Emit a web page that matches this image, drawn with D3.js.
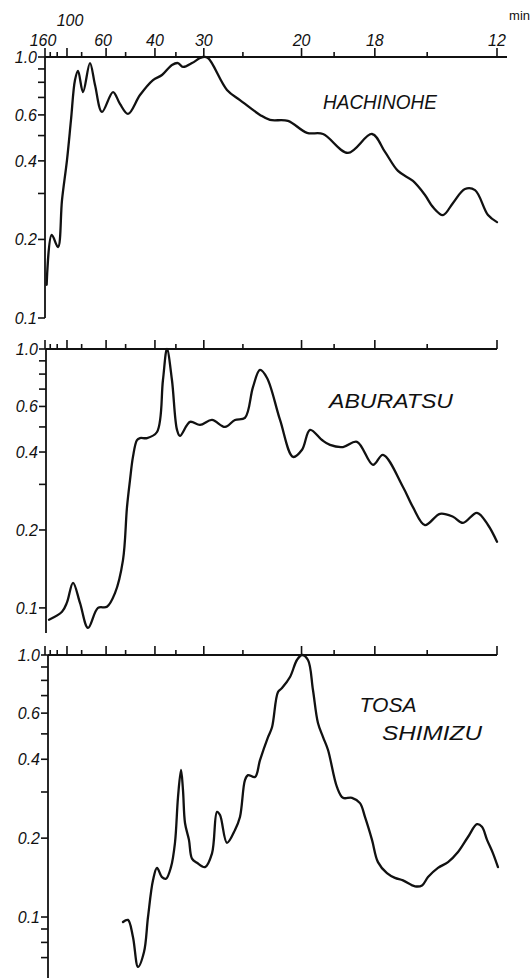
<!DOCTYPE html>
<html><head><meta charset="utf-8">
<script src="https://cdn.jsdelivr.net/npm/d3@7"></script>
<style>
html,body{margin:0;padding:0;background:#fff;}
svg{display:block;}
text{font-family:"Liberation Sans",Arial,sans-serif;font-style:italic;fill:#111;}
</style></head>
<body>
<svg id="c" width="532" height="978"></svg>
<script>
// ---------- DATA ----------
// tick periods (minutes) on the top axis
const periodTicks   = [160,140,120,100,80,60,50,40,35,30,25,20,18,16,14,12];
const majorPeriods  = [160,100,60,40,30,20,16,12];
const periodLabels  = ["160","100","60","40","30","20","18","12"];
const stations      = ["HACHINOHE","ABURATSU","TOSA SHIMIZU"];
const yMajor        = [1.0,0.6,0.4,0.2,0.1];
const yMajorLabels  = ["1.0","0.6","0.4","0.2","0.1"];
const yMinor        = [0.9,0.8,0.7,0.5,0.3];
const yMinorLow     = [0.09,0.08,0.07];

// frequency in cycles per hour, relative amplitude
const hachFreq = [0.392,0.444,0.508,0.549,0.600,0.641,0.682,0.713,0.764,0.835,0.887,0.958,1.071,1.142,1.224,1.347,1.480,1.572,1.674,1.736,1.787,1.879,1.961,1.992,2.043,2.237,2.370,2.575,2.677,2.861,3.056,3.220,3.475,3.721,3.854,3.987,4.140,4.263,4.345,4.447,4.550,4.672,4.775,4.908,5.000];
const hachAmp  = [0.134,0.208,0.187,0.283,0.403,0.574,0.816,0.884,0.734,0.948,0.781,0.616,0.734,0.661,0.605,0.715,0.816,0.853,0.932,0.948,0.916,0.948,0.991,1.0,0.991,0.748,0.684,0.600,0.574,0.569,0.512,0.507,0.429,0.507,0.433,0.366,0.335,0.296,0.266,0.248,0.276,0.312,0.309,0.248,0.233];

const abuFreq = [0.416,0.549,0.600,0.662,0.733,0.815,0.917,1.009,1.091,1.173,1.214,1.245,1.275,1.316,1.347,1.419,1.521,1.582,1.623,1.674,1.726,1.756,1.859,1.961,2.084,2.217,2.319,2.421,2.503,2.575,2.647,2.780,2.913,3.005,3.087,3.209,3.291,3.424,3.567,3.731,3.833,4.038,4.140,4.263,4.417,4.550,4.652,4.795,4.908,5.000];
const abuAmp  = [0.090,0.0966,0.105,0.125,0.1045,0.0837,0.100,0.101,0.114,0.153,0.245,0.312,0.383,0.445,0.453,0.453,0.478,0.759,1.0,0.759,0.487,0.462,0.523,0.509,0.532,0.500,0.532,0.542,0.713,0.830,0.773,0.532,0.383,0.408,0.487,0.445,0.426,0.418,0.438,0.357,0.390,0.293,0.245,0.209,0.231,0.225,0.213,0.233,0.209,0.180];

const tosaFreq = [1.173,1.224,1.275,1.327,1.388,1.429,1.480,1.521,1.572,1.613,1.664,1.705,1.736,1.767,1.787,1.808,1.848,1.879,1.930,2.012,2.084,2.135,2.166,2.237,2.319,2.370,2.421,2.452,2.524,2.575,2.657,2.698,2.759,2.800,2.882,2.953,3.005,3.066,3.117,3.168,3.220,3.271,3.363,3.424,3.516,3.598,3.649,3.721,3.782,3.874,3.956,4.038,4.161,4.233,4.294,4.396,4.499,4.601,4.703,4.795,4.846,4.898,4.959,5.010];
const tosaAmp  = [0.0957,0.0975,0.0839,0.0645,0.0735,0.100,0.138,0.154,0.142,0.140,0.155,0.192,0.287,0.364,0.305,0.228,0.197,0.167,0.161,0.155,0.175,0.252,0.245,0.192,0.215,0.241,0.333,0.348,0.342,0.397,0.486,0.53,0.722,0.748,0.824,0.957,1.0,0.957,0.735,0.55,0.486,0.434,0.313,0.285,0.285,0.272,0.241,0.197,0.162,0.147,0.141,0.138,0.131,0.132,0.142,0.154,0.162,0.177,0.202,0.226,0.221,0.197,0.175,0.155];

// ---------- LAYOUT ----------
const svg = d3.select("#c");
const x = d3.scaleLinear().domain([60/160, 60/12]).range([45, 497]);
const panels = [
  {freq:hachFreq, amp:hachAmp, name:[stations[0]], yDom:[0.1,1], yRange:[318,57], axisX:45, extend:10, lowTicks:[],
   labelPos:[[380,109]], labelLen:[114]},
  {freq:abuFreq, amp:abuAmp, name:[stations[1]], yDom:[0.08,1], yRange:[633,349], axisX:46, extend:0, lowTicks:[],
   labelPos:[[391,408]], labelLen:[124]},
  {freq:tosaFreq, amp:tosaAmp, name:["TOSA","SHIMIZU"], yDom:[0.058,1], yRange:[979,655], axisX:48, extend:0, lowTicks:yMinorLow,
   labelPos:[[388,712],[432,740]], labelLen:[57,100]}
];

const line = d3.line().curve(d3.curveCatmullRom.alpha(0.5));

panels.forEach((p, i) => {
  const y = d3.scaleLog().domain(p.yDom).range(p.yRange);
  const g = svg.append("g");
  const top = y(1);

  g.append("line").attr("x1", p.axisX).attr("x2", x(5) + p.extend)
    .attr("y1", top).attr("y2", top).attr("stroke", "#111").attr("stroke-width", 1.8);
  periodTicks.forEach(per => {
    const major = majorPeriods.includes(per);
    const tx = x(60/per);
    g.append("line").attr("x1", tx).attr("x2", tx)
      .attr("y1", top).attr("y2", top - (major ? 9 : 5))
      .attr("stroke", "#111").attr("stroke-width", 1.6);
  });
  g.append("line").attr("x1", p.axisX).attr("x2", p.axisX)
    .attr("y1", top).attr("y2", p.yRange[0]).attr("stroke", "#111").attr("stroke-width", 1.8);
  yMajor.concat(yMinor).concat(p.lowTicks).forEach(v => {
    g.append("line").attr("x1", p.axisX - 7).attr("x2", p.axisX)
      .attr("y1", y(v)).attr("y2", y(v)).attr("stroke", "#111").attr("stroke-width", 1.6);
  });
  yMajor.forEach((v, k) => {
    g.append("text").attr("x", p.axisX - 8).attr("y", y(v) + 6)
      .attr("text-anchor", "end").attr("font-size", 16).text(yMajorLabels[k]);
  });

  const pts = p.freq.map((f, k) => [x(f), y(p.amp[k])]);
  g.append("path").attr("d", line(pts)).attr("fill", "none")
    .attr("stroke", "#111").attr("stroke-width", 2.3).attr("stroke-linejoin", "round").attr("stroke-linecap", "round");

  p.name.forEach((nm, k) => {
    g.append("text").attr("x", p.labelPos[k][0]).attr("y", p.labelPos[k][1])
      .attr("text-anchor", "middle").attr("font-size", 21)
      .attr("textLength", p.labelLen[k]).attr("lengthAdjust", "spacingAndGlyphs").text(nm);
  });

  if (i === 0) {
    majorPeriods.forEach((per, k) => {
      const lx = x(60/per) + (per === 160 ? -2 : (per === 100 ? 3 : (per === 60 ? -3 : 0)));
      const ly = per === 100 ? 26 : 46;
      g.append("text").attr("x", lx).attr("y", ly).attr("text-anchor", "middle")
        .attr("font-size", 16).text(periodLabels[k]);
    });
    g.append("text").attr("x", 530).attr("y", 20).attr("text-anchor", "end")
      .attr("font-size", 13).style("font-style", "normal").text("min");
  }
});
</script>
</body></html>
